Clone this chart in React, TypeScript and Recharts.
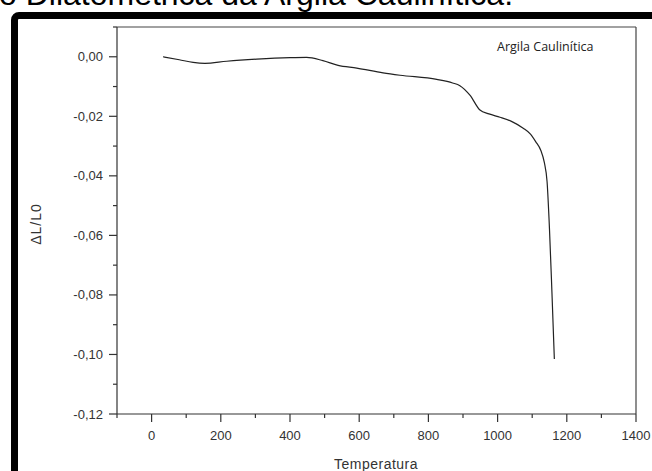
import React from "react";
import { LineChart, Line, XAxis, YAxis, ReferenceLine } from "recharts";

// Temperatura (°C) e retração linear ΔL/L0
const temperatura = [33, 80, 120, 154, 217, 304, 400, 448, 495, 539, 593, 669, 718, 824, 870, 891, 920, 949, 975, 1007, 1040, 1074, 1095, 1110, 1125, 1135, 1143, 1150, 1157, 1164];
const deltaL = [0, -0.001, -0.0019, -0.0022, -0.0015, -0.0008, -0.0003, -0.0002, -0.0013, -0.0029, -0.0038, -0.0054, -0.0062, -0.0076, -0.0088, -0.0097, -0.0129, -0.0179, -0.0192, -0.0203, -0.0217, -0.024, -0.026, -0.0285, -0.0315, -0.0355, -0.042, -0.058, -0.079, -0.1015];

const xTicks = [-100, 0, 100, 200, 300, 400, 500, 600, 700, 800, 900, 1000, 1100, 1200, 1300, 1400];
const xLabels = [0, 200, 400, 600, 800, 1000, 1200, 1400];
const yTicks = [-0.12, -0.11, -0.1, -0.09, -0.08, -0.07, -0.06, -0.05, -0.04, -0.03, -0.02, -0.01, 0, 0.01];
const yLabels = [-0.12, -0.1, -0.08, -0.06, -0.04, -0.02, 0];

const data = temperatura.map((t, i) => ({ t, v: deltaL[i] }));

const AXIS = "#333";
const FONT = "'Liberation Sans', Arial, sans-serif";

const fmtY = (v: number) => v.toFixed(2).replace(".", ",");

const YTick = (props: any) => {
  const { x, y, payload } = props;
  const major = yLabels.some((l) => Math.abs(l - payload.value) < 1e-6);
  return (
    <g>
      <line x1={x - (major ? 8 : 4)} x2={x} y1={y} y2={y} stroke={AXIS} strokeWidth={1.2} />
      {major && (
        <text x={x - 14} y={y} textAnchor="end" dominantBaseline="central" fontSize={13} fill="#333" fontFamily={FONT}>
          {fmtY(payload.value)}
        </text>
      )}
    </g>
  );
};

const XTick = (props: any) => {
  const { x, y, payload } = props;
  const major = xLabels.includes(payload.value);
  return (
    <g>
      <line x1={x} x2={x} y1={y} y2={y + (major ? 8 : 4)} stroke={AXIS} strokeWidth={1.2} />
      {major && (
        <text x={x} y={y + 21} textAnchor="middle" dominantBaseline="central" fontSize={13} fill="#333" fontFamily={FONT}>
          {payload.value}
        </text>
      )}
    </g>
  );
};

export default function App() {
  return (
    <div style={{ position: "fixed", left: 0, top: 0, width: 652, height: 471, overflow: "hidden", background: "#fff" }}>
      <div
        style={{
          position: "absolute",
          left: -1,
          top: -24,
          fontFamily: FONT,
          fontSize: 32,
          whiteSpace: "nowrap",
          color: "#000",
        }}
      >
        o Dilatométrica da Argila Caulinítica.
      </div>
      <div
        style={{
          position: "absolute",
          left: 11,
          top: 12,
          width: 700,
          height: 520,
          border: "7px solid #000",
          borderRadius: 8,
        }}
      />
      <div style={{ position: "absolute", left: 0, top: 0 }}>
        <LineChart width={652} height={471} data={data} margin={{ top: 27, right: 16, left: 0, bottom: 0 }}>
          <XAxis
            dataKey="t"
            type="number"
            domain={[-100, 1400]}
            ticks={xTicks}
            interval={0}
            tickSize={0}
            tickMargin={0}
            tick={<XTick />}
            height={57}
            axisLine={{ stroke: AXIS, strokeWidth: 1.2 }}
            label={{
              content: () => (
                <text x={376} y={464} textAnchor="middle" dominantBaseline="central" fontSize={14} letterSpacing={0.5} fill="#333" fontFamily={FONT}>
                  Temperatura
                </text>
              ),
            }}
          />
          <YAxis
            type="number"
            domain={[-0.12, 0.01]}
            ticks={yTicks}
            interval={0}
            tickSize={0}
            tickMargin={0}
            tick={<YTick />}
            width={117}
            axisLine={{ stroke: AXIS, strokeWidth: 1.2 }}
            label={{
              content: () => (
                <text
                  x={36}
                  y={224}
                  textAnchor="middle"
                  dominantBaseline="central"
                  fontSize={14}
                  letterSpacing={1}
                  fill="#333"
                  fontFamily={FONT}
                  transform="rotate(-90, 36, 224)"
                >
                  ΔL/L0
                </text>
              ),
            }}
          />
          <ReferenceLine y={0.01} stroke="#444" strokeWidth={1.2} />
          <ReferenceLine x={1400} stroke="#444" strokeWidth={1.2} />
          <Line type="monotone" dataKey="v" stroke="#222" strokeWidth={1.2} dot={false} isAnimationActive={false} />
        </LineChart>
      </div>
      <div
        style={{
          position: "absolute",
          left: 497,
          top: 38,
          fontFamily: "'Open Sans', sans-serif",
          fontSize: 12.5,
          color: "#222",
          whiteSpace: "nowrap",
        }}
      >
        Argila Caulinítica
      </div>
    </div>
  );
}
